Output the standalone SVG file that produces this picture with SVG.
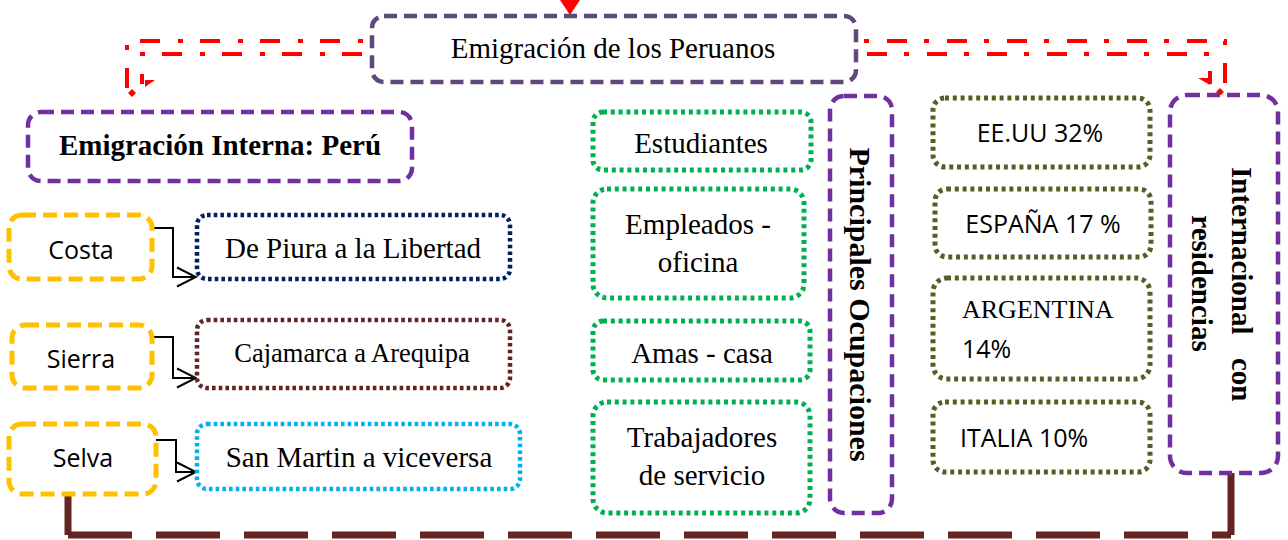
<svg xmlns="http://www.w3.org/2000/svg" width="1288" height="540" viewBox="0 0 1288 540">
<defs>
<style>
.serif{font-family:"Liberation Serif","Times New Roman",serif;fill:#000}
.sans{font-family:"Open Sans","Liberation Sans",sans-serif;fill:#000}
.s29{font-size:29px}
.b{font-weight:bold}
.mid{text-anchor:middle}
.box{fill:#fff}
.dashP{stroke-width:4.5;stroke-dasharray:13 7}
.dashY{stroke:#FFC000;stroke-width:5;stroke-dasharray:14 7}
.dotL{stroke-width:4.5;stroke-dasharray:3.6 3.1}
.dotR{stroke-width:5;stroke-dasharray:4 3.8}
.red{fill:none;stroke:#FF0000;stroke-width:4;stroke-dasharray:20 17 5 18}
.blk{fill:none;stroke:#000;stroke-width:2}
</style>
<marker id="open" markerUnits="userSpaceOnUse" markerWidth="22" markerHeight="22" viewBox="0 0 22 22" refX="20" refY="11" orient="auto">
<path d="M1,1.5 L20,11 L1,20.5" fill="none" stroke="#000" stroke-width="2"/>
</marker>
</defs>
<rect width="1288" height="540" fill="#fff"/>

<g id="connectors">
<polygon points="560,0 580,0 570,15" fill="#FF0000"/>
<path class="red" d="M372,41 H127 V88" stroke-dashoffset="28"/>
<path class="red" d="M372,54 H142 V84" stroke-dashoffset="50"/>
<polygon points="145,80 155,80 145,87" fill="#FF0000"/>
<polygon points="132,89 136,93 132,97 128,93" fill="#FF0000"/>
<path class="red" d="M856,41 H1225 V84" stroke-dashoffset="29"/>
<path class="red" d="M856,54 H1210 V84" stroke-dashoffset="49"/>
<polygon points="1198,78 1210,78 1210,85" fill="#FF0000"/>
<polygon points="1220,88 1224,92 1220,96 1216,92" fill="#FF0000"/>
<path class="blk" d="M151,228 H173 V277 H196" marker-end="url(#open)"/>
<path class="blk" d="M151,337 H173 V378 H196" marker-end="url(#open)"/>
<path class="blk" d="M155,440 H176 V472 H196" marker-end="url(#open)"/>
<path d="M68,494 V535 M1231,473 V535" fill="none" stroke="#632523" stroke-width="7"/>
<path d="M68,535 H1231" fill="none" stroke="#632523" stroke-width="7" stroke-dasharray="64 24"/>
</g>

<g id="n-main">
<rect class="box dashP" x="372" y="16" width="484" height="66" rx="12" stroke="#5F497A"/>
<text class="serif s29 mid" x="613" y="58">Emigración de los Peruanos</text>
</g>
<g id="n-interna">
<rect class="box dashP" x="28" y="112" width="384" height="69" rx="13" stroke="#7030A0"/>
<text class="serif s29 b mid" x="220" y="155">Emigración Interna: Perú</text>
</g>

<g id="n-costa">
<rect class="box dashY" x="9" y="215" width="143" height="64" rx="13"/>
<text class="sans mid" font-size="25" x="81" y="259">Costa</text>
</g>
<g id="n-sierra">
<rect class="box dashY" x="12" y="325" width="140" height="63" rx="13"/>
<text class="sans mid" font-size="25" x="81" y="368">Sierra</text>
</g>
<g id="n-selva">
<rect class="box dashY" x="9" y="424" width="147" height="70" rx="13"/>
<text class="sans mid" font-size="25" x="83" y="467">Selva</text>
</g>

<g id="n-piura">
<rect class="box dotL" x="197" y="215" width="313" height="64" rx="10" stroke="#002060"/>
<text class="serif s29 mid" x="353" y="258">De Piura a la Libertad</text>
</g>
<g id="n-cajamarca">
<rect class="box dotL" x="197" y="320" width="313" height="68" rx="10" stroke="#632523"/>
<text class="serif mid" font-size="26.5" x="352" y="362">Cajamarca a Arequipa</text>
</g>
<g id="n-sanmartin">
<rect class="box dotL" x="197" y="424" width="323" height="65" rx="10" stroke="#00B0F0"/>
<text class="serif s29 mid" x="359" y="467">San Martin a viceversa</text>
</g>

<g id="n-estudiantes">
<rect class="box dotR" x="593" y="112" width="218" height="58" rx="10" stroke="#00B050"/>
<text class="serif s29 mid" x="701" y="153">Estudiantes</text>
</g>
<g id="n-empleados">
<rect class="box dotR" x="593" y="189" width="211" height="109" rx="14" stroke="#00B050"/>
<text class="serif s29 mid" x="698" y="234">Empleados -</text>
<text class="serif s29 mid" x="698" y="272">oficina</text>
</g>
<g id="n-amas">
<rect class="box dotR" x="593" y="321" width="217" height="59" rx="10" stroke="#00B050"/>
<text class="serif s29 mid" x="702" y="363">Amas - casa</text>
</g>
<g id="n-trabajadores">
<rect class="box dotR" x="593" y="402" width="217" height="111" rx="14" stroke="#00B050"/>
<text class="serif s29 mid" x="702" y="447">Trabajadores</text>
<text class="serif s29 mid" x="702" y="485">de servicio</text>
</g>

<g id="n-principales">
<rect class="box dashP" x="830" y="96" width="62" height="417" rx="14" stroke="#7030A0"/>
<text class="serif b mid" font-size="30" transform="translate(850,0) rotate(90)" x="304.5" y="0">Principales Ocupaciones</text>
</g>

<g id="n-eeuu">
<rect class="box dotR" x="933" y="98" width="217" height="69" rx="12" stroke="#4F6228"/>
<text class="sans mid" font-size="25" x="1040" y="142">EE.UU 32%</text>
</g>
<g id="n-espana">
<rect class="box dotR" x="935" y="189" width="216" height="68" rx="12" stroke="#4F6228"/>
<text class="sans mid" font-size="25" x="1043" y="233">ESPAÑA 17 %</text>
</g>
<g id="n-argentina">
<rect class="box dotR" x="933" y="278" width="217" height="101" rx="14" stroke="#4F6228"/>
<text class="serif" font-size="26" x="962" y="318">ARGENTINA</text>
<text class="sans" font-size="25" x="962" y="358">14%</text>
</g>
<g id="n-italia">
<rect class="box dotR" x="933" y="402" width="217" height="70" rx="12" stroke="#4F6228"/>
<text class="sans" font-size="25" x="960" y="447">ITALIA 10%</text>
</g>

<g id="n-internacional">
<rect class="box dashP" x="1170" y="95" width="108" height="378" rx="17" stroke="#7030A0"/>
<g transform="translate(1232,0) rotate(90)">
<text class="serif s29 b" x="167" y="0">Internacional</text>
<text class="serif s29 b" x="358" y="0">con</text>
<text class="serif s29 b mid" x="283.5" y="40">residencias</text>
</g>
</g>
</svg>
